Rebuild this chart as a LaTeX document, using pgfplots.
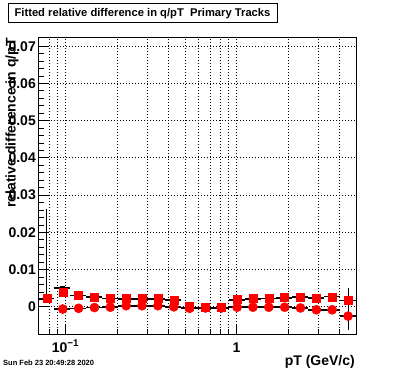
\documentclass[border=0pt]{standalone}
\usepackage{fontspec}
\setmainfont{Liberation Sans}
\usepackage{pgfplots}
\usepackage{pgfplotstable}
\pgfplotsset{compat=1.18}
\definecolor{rootred}{RGB}{255,0,0}
% x: bin centre (GeV/c); ya: squares; yb: circles; ka, kb: black (with errors)
\pgfplotstableread{
x       ya      yb       ka      kap     kam     kb       kbe
0.0779  0.0022  nan      0.0022  0.0240  0.0     nan      0
0.0964  0.0040  -0.0006  0.0050  0.0     0.0     -0.0006  0
0.1193  0.0032  -0.0004  0.0030  0.0     0.0     -0.0004  0
0.1477  0.0027  -0.0002  0.0026  0.0     0.0     -0.0002  0
0.1829  0.0023  -0.0001  0.0022  0.0     0.0     -0.0001  0
0.2264  0.0022  0.0003   0.0021  0.0     0.0     0.0003   0
0.2802  0.0022  0.0003   0.0021  0.0     0.0     0.0003   0
0.3469  0.0022  0.0003   0.0021  0.0     0.0     0.0003   0
0.4294  0.0019  0.0000   0.0019  0.0     0.0     0.0000   0
0.5316  0.0001  -0.0004  -0.0002 0.0     0.0     -0.0004  0
0.6581  0.0000  -0.0003  -0.0002 0.0     0.0     -0.0003  0
0.8146  0.0000  -0.0003  -0.0002 0.0     0.0     -0.0003  0
1.0084  0.0021  -0.0001  0.0018  0.0     0.0     -0.0001  0
1.2483  0.0022  -0.0001  0.0021  0.0     0.0     -0.0001  0
1.5453  0.0022  -0.0001  0.0022  0.0     0.0     -0.0001  0
1.9129  0.0025  -0.0001  0.0024  0.0     0.0     -0.0001  0
2.3680  0.0025  -0.0003  0.0026  0.0     0.0     -0.0003  0
2.9313  0.0023  -0.0008  0.0024  0.0     0.0     -0.0008  0
3.6287  0.0026  -0.0008  0.0028  0.0     0.0     -0.0008  0
4.4920  0.0017  -0.0025  0.0017  0.0034  0.0034  -0.0025  0.0037
}\datatable
\begin{document}
\begin{tikzpicture}[x=1pt,y=1pt]
\useasboundingbox (0,0) rectangle (396,372);
\begin{axis}[
  at={(39pt,38pt)}, anchor=south west,
  scale only axis, width=317pt, height=296pt,
  xmode=log, xmin=0.07, xmax=5,
  ymin=-0.0073, ymax=0.0722,
  axis line style={line width=1pt},
  xtick={0.1,1}, xticklabels={10\textsuperscript{−1},1},
  minor xtick={0.08,0.09,0.2,0.3,0.4,0.5,0.6,0.7,0.8,0.9,2,3,4},
  ytick={0,0.01,0.02,0.03,0.04,0.05,0.06,0.07},
  yticklabels={0,0.01,0.02,0.03,0.04,0.05,0.06,0.07},
  minor y tick num=4,
  tick align=inside, xtick pos=bottom, ytick pos=left,
  major tick length=10pt, minor tick length=5pt,
  tick style={black, line width=0.8pt},
  xmajorgrids, xminorgrids, ymajorgrids,
  major grid style={black, line width=0.8pt, dash pattern=on 1pt off 2pt},
  minor grid style={black, line width=0.8pt, dash pattern=on 1pt off 2pt},
  xticklabel style={font=\fontsize{14}{14}\selectfont\bfseries, anchor=base, inner sep=0pt, yshift=-18pt},
  yticklabel style={font=\fontsize{14}{14}\selectfont\bfseries, anchor=east, inner sep=0pt, xshift=-3pt},
  scaled y ticks=false,
  clip=true,
]
% black series: vertical errors (thin)
\addplot[black, draw=none, mark=none,
  error bars/.cd, y dir=both, y explicit,
  error bar style={line width=1pt, solid}, error mark=none]
  table[x=x, y=ka, y error plus=kap, y error minus=kam] {\datatable};
\addplot[black, draw=none, mark=none,
  error bars/.cd, y dir=both, y explicit,
  error bar style={line width=1pt, solid}, error mark=none]
  table[x=x, y=kb, y error=kbe] {\datatable};
% black series: bin widths (thick)
\addplot[black, line width=1.6pt, mark=square*, mark size=1.6pt, only marks,
  error bars/.cd, x dir=both, x fixed relative=0.107,
  error bar style={line width=1.6pt}, error mark=none]
  table[x=x, y=ka] {\datatable};
\addplot[black, line width=1.6pt, mark=square*, mark size=1.6pt, only marks,
  error bars/.cd, x dir=both, x fixed relative=0.107,
  error bar style={line width=1.6pt}, error mark=none]
  table[x=x, y=kb] {\datatable};
% red series
\addplot[rootred, only marks, mark=square*, mark size=4pt] table[x=x, y=ya] {\datatable};
\addplot[rootred, only marks, mark=*, mark size=4.6pt] table[x=x, y=yb] {\datatable};
\end{axis}
% title box
\draw[line width=1pt, fill=white] (8,368) rectangle (277,349);
\node[font=\fontsize{11.2}{12}\selectfont\bfseries, anchor=center] at (142.5,358.5) {Fitted relative difference in q/pT\ \ Primary Tracks};
% axis titles
\node[font=\fontsize{14}{14}\selectfont\bfseries, rotate=90, anchor=east, inner sep=0pt] at (12,334) {relative difference in q/pT};
\node[font=\fontsize{14}{14}\selectfont\bfseries, anchor=base east, inner sep=0pt] at (355,6) {pT (GeV/c)};
\node[font=\fontsize{7.5}{8}\selectfont\bfseries, anchor=base west, inner sep=0pt] at (3,6) {Sun Feb 23 20:49:28 2020};
\end{tikzpicture}
\end{document}
